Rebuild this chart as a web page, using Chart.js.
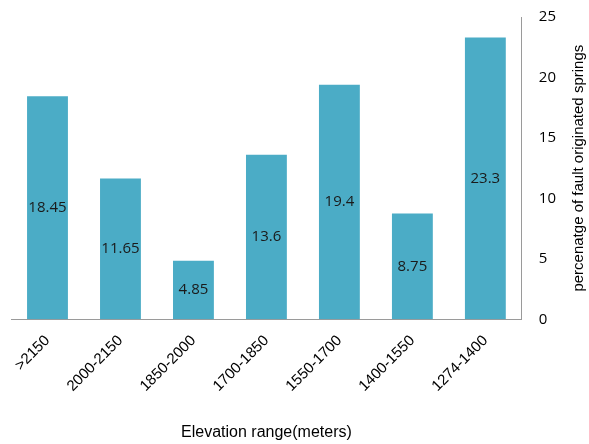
<!DOCTYPE html>
<html>
<head>
<meta charset="utf-8">
<script src="https://cdn.jsdelivr.net/npm/chart.js@4.4.0/dist/chart.umd.min.js"></script>
<style>
    html, body { margin: 0; padding: 0; background: #fff; }
    #wrap { width: 589px; height: 444px; }
</style>
</head>
<body>
<div id="wrap"><canvas id="grafico"></canvas></div>
<script>
// Dados do gráfico
const categorias = ['>2150', '2000-2150', '1850-2000', '1700-1850', '1550-1700', '1400-1550', '1274-1400'];
const valores = [18.45, 11.65, 4.85, 13.6, 19.4, 8.75, 23.3];
const ticksY = [0, 5, 10, 15, 20, 25];
const tituloY = 'percenatge of fault originated springs';
const tituloX = 'Elevation range(meters)';

// Rótulos no meio das barras + título do eixo direito
const rotulosPlugin = {
    id: 'rotulos',
    afterDatasetsDraw(chart) {
        const ctx = chart.ctx;
        const meta = chart.getDatasetMeta(0);
        ctx.save();
        ctx.font = '15px "Open Sans", sans-serif';
        ctx.fillStyle = '#1a1a1a';
        ctx.textAlign = 'center';
        ctx.textBaseline = 'middle';
        meta.data.forEach((bar, i) => {
            const y = (bar.y + bar.base) / 2;
            ctx.fillText(String(valores[i]), bar.x, y);
        });
        ctx.restore();
    },
    afterDraw(chart) {
        const ctx = chart.ctx;
        const y = chart.scales.y;
        ctx.save();
        ctx.translate(579, (y.top + y.bottom) / 2);
        ctx.rotate(-Math.PI / 2);
        ctx.font = '15px "Liberation Sans", Arial, sans-serif';
        ctx.fillStyle = '#000';
        ctx.textAlign = 'center';
        ctx.textBaseline = 'middle';
        ctx.fillText(tituloY, 0, 0);
        ctx.restore();
    }
};

const ctx = document.getElementById('grafico').getContext('2d');
const chart = new Chart(ctx, {
    type: 'bar',
    data: {
        labels: categorias,
        datasets: [{
            data: valores,
            backgroundColor: '#4bacc6',
            categoryPercentage: 1,
            barPercentage: 0.56
        }]
    },
    options: {
        responsive: true,
        maintainAspectRatio: false,
        animation: false,
        layout: { padding: { top: 0, left: 11, right: 16, bottom: 2 } },
        plugins: {
            legend: { display: false },
            tooltip: { enabled: false }
        },
        scales: {
            x: {
                grid: { display: false, drawTicks: false },
                border: { display: true, color: '#9a9a9a' },
                ticks: {
                    maxRotation: 45,
                    minRotation: 45,
                    padding: 12.5,
                    color: '#000',
                    font: { family: '"Liberation Sans", Arial, sans-serif', size: 15 }
                },
                title: {
                    display: true,
                    text: tituloX,
                    color: '#000',
                    padding: { top: 15, bottom: 0 },
                    font: { family: '"Liberation Sans", Arial, sans-serif', size: 16 }
                }
            },
            y: {
                position: 'right',
                min: 0,
                max: 25,
                afterBuildTicks(axis) {
                    axis.ticks = ticksY.map(v => ({ value: v }));
                },
                afterFit(axis) {
                    axis.paddingTop = 17;
                },
                grid: { display: false, drawTicks: false },
                border: { display: true, color: '#9a9a9a' },
                ticks: {
                    padding: 17,
                    color: '#000',
                    font: { family: '"Open Sans", sans-serif', size: 15 }
                }
            }
        }
    },
    plugins: [rotulosPlugin]
});
</script>
</body>
</html>
